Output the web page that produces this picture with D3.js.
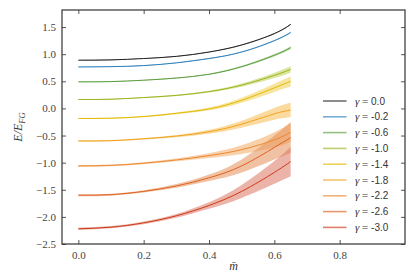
<!DOCTYPE html>
<html>
<head>
<meta charset="utf-8">
<script src="https://cdn.jsdelivr.net/npm/d3@7"></script>
<style>
  body { margin: 0; background: #fff; }
  svg { display: block; }
</style>
</head>
<body>
<script>
// svg container
var svgWidth = 415;
var svgHeight = 277;

var margin = { top: 10, right: 10, bottom: 33, left: 62 };
var chartWidth = svgWidth - margin.left - margin.right;
var chartHeight = svgHeight - margin.top - margin.bottom;

var serif = "Liberation Serif, DejaVu Serif, serif";

// data
var mSamples = [0.0, 0.1, 0.2, 0.3, 0.4, 0.5, 0.6, 0.65];
var gammaLabels = ["0.0", "-0.2", "-0.6", "-1.0", "-1.4", "-1.8", "-2.2", "-2.6", "-3.0"];

var energy = [
  [0.89, 0.895, 0.92, 0.96, 1.04, 1.17, 1.38, 1.55],
  [0.765, 0.77, 0.79, 0.84, 0.92, 1.04, 1.25, 1.40],
  [0.49, 0.495, 0.52, 0.56, 0.63, 0.77, 0.98, 1.12],
  [0.165, 0.17, 0.20, 0.24, 0.31, 0.43, 0.61, 0.72],
  [-0.185, -0.18, -0.15, -0.09, -0.01, 0.15, 0.38, 0.50],
  [-0.60, -0.595, -0.56, -0.51, -0.43, -0.29, -0.10, -0.03],
  [-1.06, -1.05, -1.01, -0.95, -0.87, -0.76, -0.58, -0.44],
  [-1.60, -1.59, -1.53, -1.43, -1.28, -1.06, -0.72, -0.54],
  [-2.22, -2.19, -2.11, -1.98, -1.79, -1.53, -1.18, -0.98]
];

var energyErr = [
  [0.005, 0.005, 0.005, 0.006, 0.007, 0.008, 0.010, 0.012],
  [0.005, 0.005, 0.006, 0.007, 0.008, 0.010, 0.013, 0.015],
  [0.006, 0.006, 0.007, 0.008, 0.010, 0.015, 0.022, 0.028],
  [0.008, 0.008, 0.010, 0.012, 0.018, 0.030, 0.050, 0.060],
  [0.010, 0.010, 0.012, 0.016, 0.025, 0.045, 0.075, 0.095],
  [0.012, 0.012, 0.015, 0.020, 0.035, 0.065, 0.110, 0.135],
  [0.015, 0.015, 0.018, 0.026, 0.045, 0.080, 0.140, 0.180],
  [0.018, 0.018, 0.022, 0.035, 0.060, 0.120, 0.220, 0.280],
  [0.020, 0.020, 0.025, 0.035, 0.060, 0.120, 0.210, 0.270]
];

var xTicks = [0.0, 0.2, 0.4, 0.6, 0.8];
var yTicks = [-2.5, -2.0, -1.5, -1.0, -0.5, 0.0, 0.5, 1.0, 1.5];

var lineColors = ["#222222", "#2f7fb9", "#5e9e3e", "#9cb322", "#e2b900", "#f1a21e", "#ee8730", "#e0611f", "#cc3a1a"];
var bandColors = ["#555555", "#6aa6d2", "#8dbf72", "#bfcf52", "#f0d050", "#f5bb50", "#f2ab66", "#e38f58", "#dc7563"];

var svg = d3.select("body").append("svg")
    .attr("width", svgWidth)
    .attr("height", svgHeight);

var chartGroup = svg.append("g")
    .attr("transform", `translate(${margin.left}, ${margin.top})`);

// scales
var x = d3.scaleLinear().domain([-0.05, 1.0]).range([0, chartWidth]);
var y = d3.scaleLinear().domain([-2.5, 1.815]).range([chartHeight, 0]);

// bands + lines
var area = d3.area()
    .x(d => x(d.m))
    .y0(d => y(d.e - d.err))
    .y1(d => y(d.e + d.err))
    .curve(d3.curveNatural);

var line = d3.line()
    .x(d => x(d.m))
    .y(d => y(d.e))
    .curve(d3.curveNatural);

var series = energy.map((vals, i) => mSamples.map((m, j) => ({ m: m, e: vals[j], err: energyErr[i][j] })));

series.forEach((s, i) => {
    chartGroup.append("path")
        .attr("d", area(s))
        .attr("fill", bandColors[i])
        .attr("opacity", 0.55);
});
series.forEach((s, i) => {
    chartGroup.append("path")
        .attr("d", line(s))
        .attr("fill", "none")
        .attr("stroke", lineColors[i])
        .attr("stroke-width", 1);
});

// axes, ticks pointing inwards on all four sides
function styleAxis(g) {
    g.select(".domain").remove();
    g.selectAll(".tick line").attr("stroke", "#555");
    g.selectAll(".tick text")
        .attr("font-family", serif)
        .attr("font-size", 11)
        .attr("fill", "#444");
}
var fmt = d => d3.format(".1f")(d).replace("-", "\u2212");

chartGroup.append("g")
    .attr("transform", `translate(0, ${chartHeight})`)
    .call(d3.axisBottom(x).tickValues(xTicks).tickFormat(fmt).tickSizeInner(-4).tickPadding(7))
    .call(styleAxis);
chartGroup.append("g")
    .call(d3.axisTop(x).tickValues(xTicks).tickFormat("").tickSizeInner(-4))
    .call(styleAxis);
chartGroup.append("g")
    .call(d3.axisLeft(y).tickValues(yTicks).tickFormat(fmt).tickSizeInner(-4).tickPadding(6))
    .call(styleAxis);
chartGroup.append("g")
    .attr("transform", `translate(${chartWidth}, 0)`)
    .call(d3.axisRight(y).tickValues(yTicks).tickFormat("").tickSizeInner(-4))
    .call(styleAxis);

chartGroup.append("rect")
    .attr("width", chartWidth)
    .attr("height", chartHeight)
    .attr("fill", "none")
    .attr("stroke", "#333")
    .attr("stroke-width", 1.2);

// axis labels
svg.append("text")
    .attr("x", margin.left + x(0.475))
    .attr("y", 270)
    .attr("text-anchor", "middle")
    .attr("font-family", serif)
    .attr("font-style", "italic")
    .attr("font-size", 12)
    .attr("fill", "#333")
    .text("m\u0304");

var yLabel = svg.append("text")
    .attr("transform", `translate(22, ${margin.top + chartHeight / 2}) rotate(-90)`)
    .attr("text-anchor", "middle")
    .attr("font-family", serif)
    .attr("font-style", "italic")
    .attr("font-size", 12)
    .attr("fill", "#333");
yLabel.append("tspan").text("E/E");
yLabel.append("tspan").attr("font-size", 8.5).attr("dy", 2.5).text("FG");

// legend
var legend = svg.append("g").attr("transform", "translate(323, 101)");
gammaLabels.forEach((lab, i) => {
    var row = legend.append("g").attr("transform", `translate(0, ${i * 15.8})`);
    row.append("line")
        .attr("x1", 0).attr("x2", 23.5)
        .attr("stroke", lineColors[i])
        .attr("stroke-opacity", 0.65)
        .attr("stroke-width", 1.6);
    var t = row.append("text")
        .attr("x", 32)
        .attr("y", 3.5)
        .attr("font-size", 11)
        .attr("fill", "#333");
    t.append("tspan").attr("font-family", serif).attr("font-style", "italic").text("\u03b3");
    t.append("tspan").attr("font-family", serif).text(" = ");
    t.append("tspan").attr("font-family", "Liberation Sans, Arial, sans-serif").attr("font-size", 10).text(lab);
});
</script>
</body>
</html>
